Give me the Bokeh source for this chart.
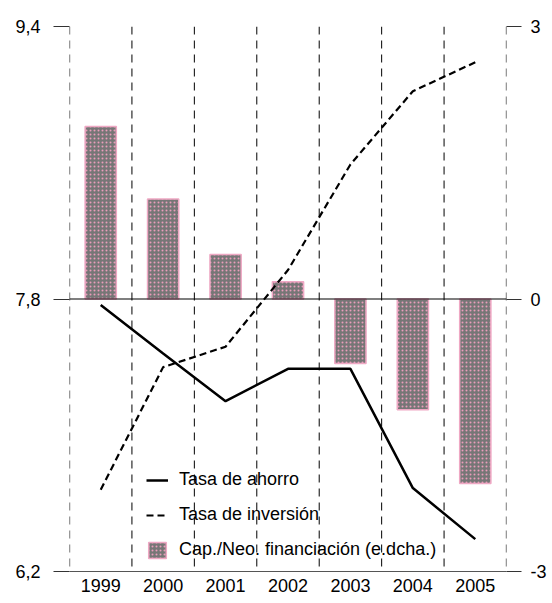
from bokeh.plotting import figure
from bokeh.models import (Range1d, LinearAxis, FixedTicker, Span, Legend, LegendItem,
                          ColumnDataSource)
from bokeh.embed import file_html
from bokeh.resources import INLINE

years = ["1999", "2000", "2001", "2002", "2003", "2004", "2005"]
ahorro = [7.765, 7.48, 7.20, 7.39, 7.39, 6.69, 6.39]
inversion = [6.68, 7.40, 7.52, 7.97, 8.59, 9.02, 9.19]
cap_nec = [1.90, 1.10, 0.49, 0.19, -0.71, -1.22, -2.03]
left_ticks = [6.2, 7.8, 9.4]
left_labels = ["6,2", "7,8", "9,4"]
right_ticks = [-3, 0, 3]
right_labels = ["-3", "0", "3"]

FONT = "Liberation Sans"
FS = "18px"

xc = [i + 0.5 for i in range(len(years))]
src = ColumnDataSource(dict(x=xc, ahorro=ahorro, inv=inversion, cap=cap_nec))

p = figure(width=552, height=603, output_backend="svg", toolbar_location=None,
           x_range=Range1d(0, len(years)), y_range=Range1d(6.2, 9.4),
           min_border_left=69, min_border_right=46, min_border_top=26, min_border_bottom=32,
           y_axis_location=None, x_axis_location=None)
p.outline_line_color = None
p.grid.visible = False
p.background_fill_color = "white"
p.border_fill_color = "white"
p.extra_y_ranges = {"right": Range1d(-3, 3)}

# left axis
la = LinearAxis(ticker=FixedTicker(ticks=left_ticks))
la.major_label_overrides = {t: l for t, l in zip(left_ticks, left_labels)}
la.axis_line_color = None
la.major_tick_in = 0
la.major_tick_out = 16
la.major_tick_line_color = "#333333"
la.minor_tick_line_color = None
la.major_label_standoff = 13
la.major_label_text_font = FONT
la.major_label_text_font_size = FS
la.major_label_text_color = "black"
p.add_layout(la, "left")

# right axis
ra = LinearAxis(y_range_name="right", ticker=FixedTicker(ticks=right_ticks))
ra.major_label_overrides = {t: l for t, l in zip(right_ticks, right_labels)}
ra.axis_line_color = None
ra.major_tick_in = 0
ra.major_tick_out = 15
ra.major_tick_line_color = "#333333"
ra.minor_tick_line_color = None
ra.major_label_standoff = 9
ra.major_label_text_font = FONT
ra.major_label_text_font_size = FS
ra.major_label_text_color = "black"
p.add_layout(ra, "right")

# bottom axis
ba = LinearAxis(ticker=FixedTicker(ticks=xc))
ba.major_label_overrides = {x: y for x, y in zip(xc, years)}
ba.axis_line_color = "#555555"
ba.major_tick_line_color = None
ba.major_tick_in = 0
ba.major_tick_out = 0
ba.minor_tick_line_color = None
ba.major_label_standoff = 7
ba.major_label_text_font = FONT
ba.major_label_text_font_size = FS
ba.major_label_text_color = "black"
p.add_layout(ba, "below")

# vertical dashed separators
for i in range(len(years) + 1):
    edge = i in (0, len(years))
    p.add_layout(Span(location=i, dimension="height",
                      line_color="#333333" if edge else "black",
                      line_width=1.3 if edge else 1, line_dash="8 6"))

# bars
bars = p.vbar(x="x", top="cap", bottom=0, width=0.5, source=src, y_range_name="right",
              fill_color="#767676", line_color="#efa8c4", line_width=1.5,
              hatch_pattern="dot", hatch_color="#ea9cbb", hatch_scale=4, hatch_weight=2.5)

# zero line
p.add_layout(Span(location=7.8, dimension="width", line_color="black", line_width=1.2))

l1 = p.line(x="x", y="ahorro", source=src, line_color="black", line_width=2.5)
l2 = p.line(x="x", y="inv", source=src, line_color="black", line_width=2.2, line_dash="7 4")

legend = Legend(items=[LegendItem(label="Tasa de ahorro", renderers=[l1]),
                       LegendItem(label="Tasa de inversión", renderers=[l2]),
                       LegendItem(label="Cap./Neo. financiación (e.dcha.)", renderers=[bars])],
                location=(77, 11), orientation="vertical")
legend.background_fill_alpha = 0
legend.border_line_color = None
legend.padding = 12
legend.margin = 0
legend.spacing = 14
legend.glyph_width = 22
legend.glyph_height = 20
legend.label_height = 20
legend.label_standoff = 11
legend.label_text_font = FONT
legend.label_text_font_size = FS
legend.label_text_color = "black"
p.add_layout(legend, "center")

open("out.html", "w").write(file_html(p, INLINE))
